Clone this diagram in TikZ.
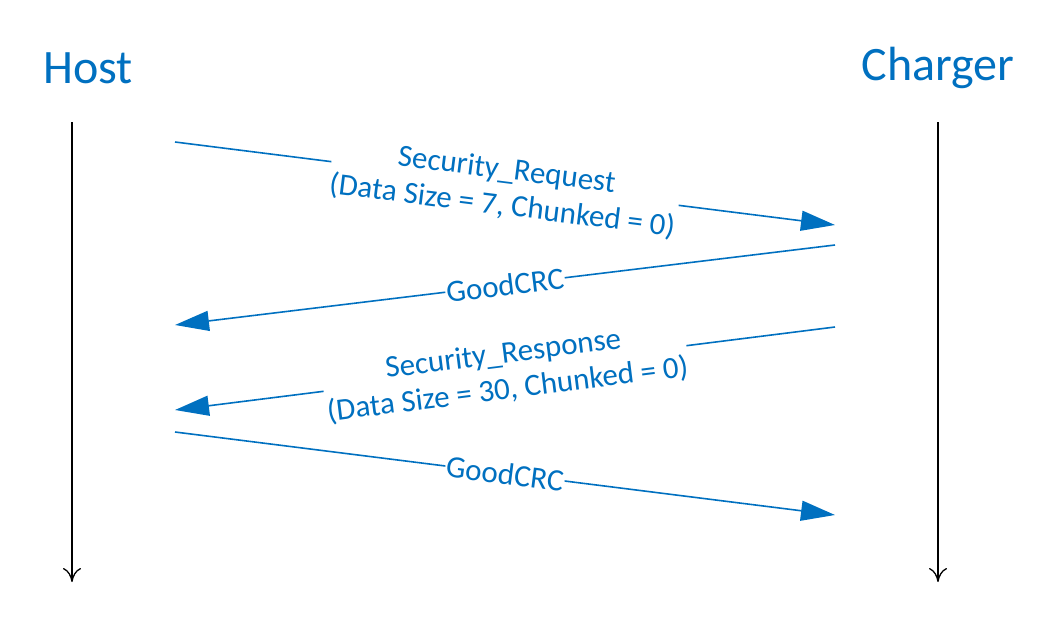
\documentclass[tikz,border=0pt]{standalone}
\usepackage{fontspec}
\setmainfont{Carlito}
\usetikzlibrary{arrows.meta}
\definecolor{pblue}{HTML}{0070C0}
\tikzset{
  actor/.style={text=pblue,font=\fontsize{48}{54}\selectfont,inner sep=0pt},
  life/.style={draw=black,line width=1.3pt,-{To[length=14pt,width=18pt]}},
  msg/.style={draw=pblue,line width=1.6pt,-{Triangle[length=34pt,width=20pt]}},
  lbl/.style={text=pblue,font=\fontsize{31}{36}\selectfont,fill=white,align=center,sloped,inner sep=1pt,midway}
}
\begin{document}
\begin{tikzpicture}[x=1pt,y=-1pt]
\useasboundingbox (0,0) rectangle (1044,634);
\node[actor] (host) at (88,68) {Host};
\node[actor] (chg) at (938,68) {Charger};
\coordinate (h0) at (72,122); \coordinate (h1) at (72,582);
\coordinate (c0) at (938,122); \coordinate (c1) at (938,582);
\draw[life] (h0) -- (h1);
\draw[life] (c0) -- (c1);
\coordinate (a1) at (175,142); \coordinate (b1) at (835,225);
\coordinate (a2) at (835,245); \coordinate (b2) at (175,325);
\coordinate (a3) at (835,327); \coordinate (b3) at (175,410);
\coordinate (a4) at (175,432); \coordinate (b4) at (835,515);
\draw[msg] (a1) -- node[lbl,yshift=-5pt]{Security\_Request\\(Data Size = 7, Chunked = 0)} (b1);
\draw[msg] (a2) -- node[lbl]{GoodCRC} (b2);
\draw[msg] (a3) -- node[lbl,yshift=-4pt]{Security\_Response\\(Data Size = 30, Chunked = 0)} (b3);
\draw[msg] (a4) -- node[lbl]{GoodCRC} (b4);
\end{tikzpicture}
\end{document}
